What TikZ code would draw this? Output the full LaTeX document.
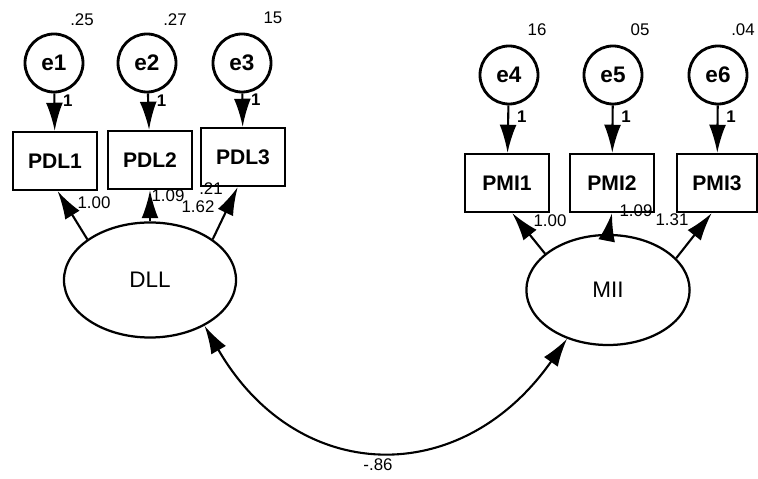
\documentclass[tikz,border=0pt]{standalone}
\usepackage{fontspec}
\setmainfont{Liberation Sans}
\usetikzlibrary{arrows.meta}
\usetikzlibrary{shapes.geometric}
\tikzset{errvar/.style = {circle, draw, line width = 2pt, minimum size = 1.45cm,
                          inner sep = 0pt, font = \bfseries\fontsize{16}{16}\selectfont},
         obsvar/.style = {rectangle, draw, line width = 1.6pt, minimum width = 2.1cm,
                          minimum height = 1.45cm, inner sep = 0pt,
                          font = \bfseries\fontsize{15}{15}\selectfont},
         latvar/.style = {ellipse, draw, line width = 1.6pt, inner sep = 0pt,
                          font = \fontsize{16}{16}\selectfont},
         regpath/.style = {-{Latex[length = 20pt, width = 12pt]}, line width = 1.5pt},
         covpath/.style = {{Latex[length = 20pt, width = 12pt]}-{Latex[length = 20pt, width = 12pt]},
                           line width = 1.5pt},
         estlabel/.style = {inner sep = 0pt, font = \fontsize{12}{12}\selectfont},
         fixlabel/.style = {right, inner sep = 1pt, xshift = 4.5pt, font = \bfseries\fontsize{12}{12}\selectfont}}

\begin{document}
\begin{tikzpicture}[x = 0.025cm, y = 0.025cm]
      \useasboundingbox (0, 0) rectangle (758, 479);
      % error terms
      \node [errvar] (e1) at (54, 416) {e1};
      \node [errvar] (e2) at (147, 416) {e2};
      \node [errvar] (e3) at (242, 416) {e3};
      \node [errvar] (e4) at (509, 404) {e4};
      \node [errvar] (e5) at (613, 404) {e5};
      \node [errvar] (e6) at (718, 404) {e6};
      % indicators
      \node [obsvar] (pdl1) at (55, 318) {PDL1};
      \node [obsvar] (pdl2) at (150, 319) {PDL2};
      \node [obsvar] (pdl3) at (243, 322) {PDL3};
      \node [obsvar] (pmi1) at (507, 296) {PMI1};
      \node [obsvar] (pmi2) at (612, 296) {PMI2};
      \node [obsvar, minimum width = 2cm] (pmi3) at (717, 296) {PMI3};
      % factors
      \node [latvar, minimum width = 4.3cm, minimum height = 2.875cm] (dll) at (150, 199) {DLL};
      \node [latvar, minimum width = 4.08cm, minimum height = 2.75cm] (mii) at (608, 189) {MII};
      % error paths
      \draw [regpath] (e1) -- (pdl1) node [fixlabel, pos = 0.2] {1};
      \draw [regpath] (e2) -- (pdl2) node [fixlabel, pos = 0.2] {1};
      \draw [regpath] (e3) -- (pdl3) node [fixlabel, pos = 0.2] {1};
      \draw [regpath] (e4) -- (pmi1) node [fixlabel, pos = 0.23] {1};
      \draw [regpath] (e5) -- (pmi2) node [fixlabel, pos = 0.23] {1};
      \draw [regpath] (e6) -- (pmi3) node [fixlabel, pos = 0.23] {1};
      % loadings
      \draw [regpath] (dll.147) -- (pdl1.-85);
      \draw [regpath] (dll.north) -- (pdl2.south);
      \draw [regpath] (dll.33) -- (pdl3.-100);
      \draw [regpath] (mii.150) -- (pmi1.-80);
      \draw [regpath] (mii.north) -- (pmi2.south);
      \draw [regpath] (mii.25) -- (pmi3.-100);
      % factor covariance
      \draw [covpath] (dll.-40) to [out = -60, in = -125, looseness = 1.3] (mii.-130);
      \node [estlabel] (r) at (378, 14) {-.86};
      % variances
      \node [estlabel] (v1) at (82, 459) {.25};
      \node [estlabel] (v2) at (175, 459) {.27};
      \node [estlabel] (v3) at (273, 461) {15};
      \node [estlabel] (v4) at (537, 449) {16};
      \node [estlabel] (v5) at (640, 449) {05};
      \node [estlabel] (v6) at (743, 449) {.04};
      % loading estimates
      \node [estlabel] (l1) at (94, 276) {1.00};
      \node [estlabel] (l2) at (168, 283) {1.09};
      \node [estlabel] (s2) at (211, 290) {.21};
      \node [estlabel] (l3) at (198, 272) {1.62};
      \node [estlabel] (l4) at (550, 258) {1.00};
      \node [estlabel] (l5) at (636, 268) {1.09};
      \node [estlabel] (l6) at (672, 259) {1.31};
    \end{tikzpicture}
\end{document}
